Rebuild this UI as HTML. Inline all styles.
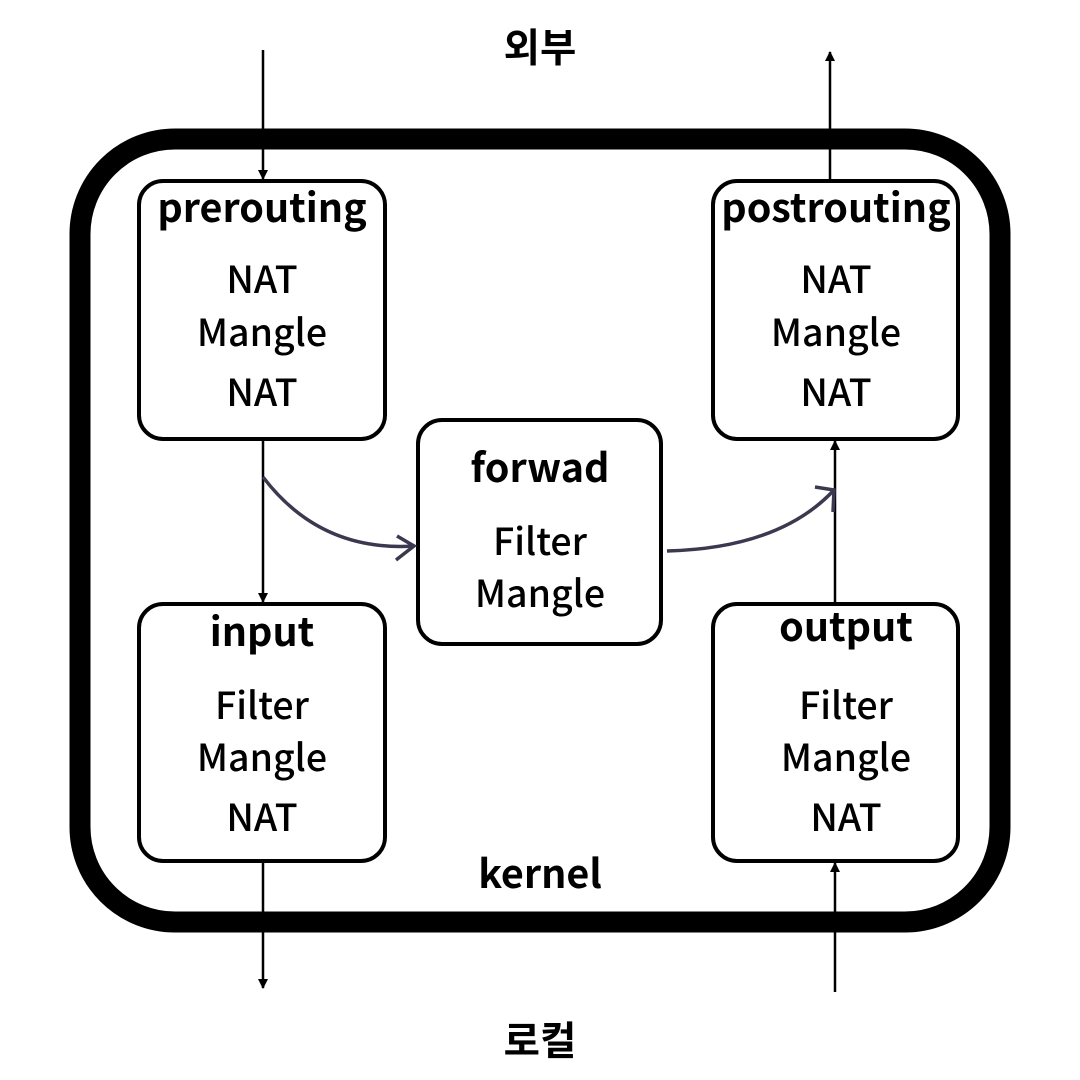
<!DOCTYPE html>
<html><head><meta charset="utf-8"><style>
body{margin:0;background:#fff}
svg{display:block}
text{font-family:"Noto Sans CJK KR","Liberation Sans",sans-serif;text-anchor:middle;fill:#000}
.t{font-weight:bold;font-size:39.5px}
.b{font-size:37.5px;font-weight:500}
</style></head><body>
<svg width="1080" height="1080" viewBox="0 0 1080 1080">
<defs>
<marker id="a" markerWidth="10" markerHeight="10" refX="9" refY="5" orient="auto" markerUnits="userSpaceOnUse"><path d="M0,0 L10,5 L0,10 z" fill="#000"/></marker>
</defs>
<rect x="80" y="139" width="920" height="783" rx="95" fill="none" stroke="#000" stroke-width="21"/>
<g fill="#fff" stroke="#000" stroke-width="4">
<rect x="139" y="181" width="246" height="258" rx="24"/>
<rect x="713" y="181" width="245" height="258" rx="24"/>
<rect x="418" y="420" width="243" height="224" rx="24"/>
<rect x="139" y="604" width="246" height="257" rx="24"/>
<rect x="713" y="604" width="245" height="257" rx="24"/>
</g>
<g stroke="#000" stroke-width="2.5" fill="none">
<line x1="263" y1="50" x2="263" y2="179" marker-end="url(#a)"/>
<line x1="263" y1="441" x2="263" y2="602" marker-end="url(#a)"/>
<line x1="263" y1="863" x2="263" y2="988" marker-end="url(#a)"/>
<line x1="830" y1="180" x2="830" y2="52" marker-end="url(#a)"/>
<line x1="835" y1="602" x2="835" y2="441" marker-end="url(#a)"/>
<line x1="835" y1="992" x2="835" y2="863" marker-end="url(#a)"/>
</g>
<g stroke="#3a3950" stroke-width="3.5" fill="none">
<path d="M263,477 Q320,552 414,546"/>
<path d="M397,536 L414,546 L396,560"/>
<path d="M667,551 Q780,548 834,490"/>
<path d="M815,487 L834,490 L833,512"/>
</g>
<text class="t" x="540" y="62">외부</text>
<text class="t" x="540" y="1055">로컬</text>
<text class="t" x="540" y="888">kernel</text>
<text class="t" x="262" y="222">prerouting</text>
<text class="b" x="262" y="293">NAT</text>
<text class="b" x="262" y="346">Mangle</text>
<text class="b" x="262" y="406">NAT</text>
<text class="t" x="836" y="222">postrouting</text>
<text class="b" x="836" y="293">NAT</text>
<text class="b" x="836" y="346">Mangle</text>
<text class="b" x="836" y="406">NAT</text>
<text class="t" x="540" y="482">forwad</text>
<text class="b" x="540" y="555">Filter</text>
<text class="b" x="540" y="607">Mangle</text>
<text class="t" x="262" y="646">input</text>
<text class="b" x="262" y="719">Filter</text>
<text class="b" x="262" y="771">Mangle</text>
<text class="b" x="262" y="831">NAT</text>
<text class="t" x="846" y="641">output</text>
<text class="b" x="846" y="719">Filter</text>
<text class="b" x="846" y="771">Mangle</text>
<text class="b" x="846" y="831">NAT</text>
</svg>
</body></html>
